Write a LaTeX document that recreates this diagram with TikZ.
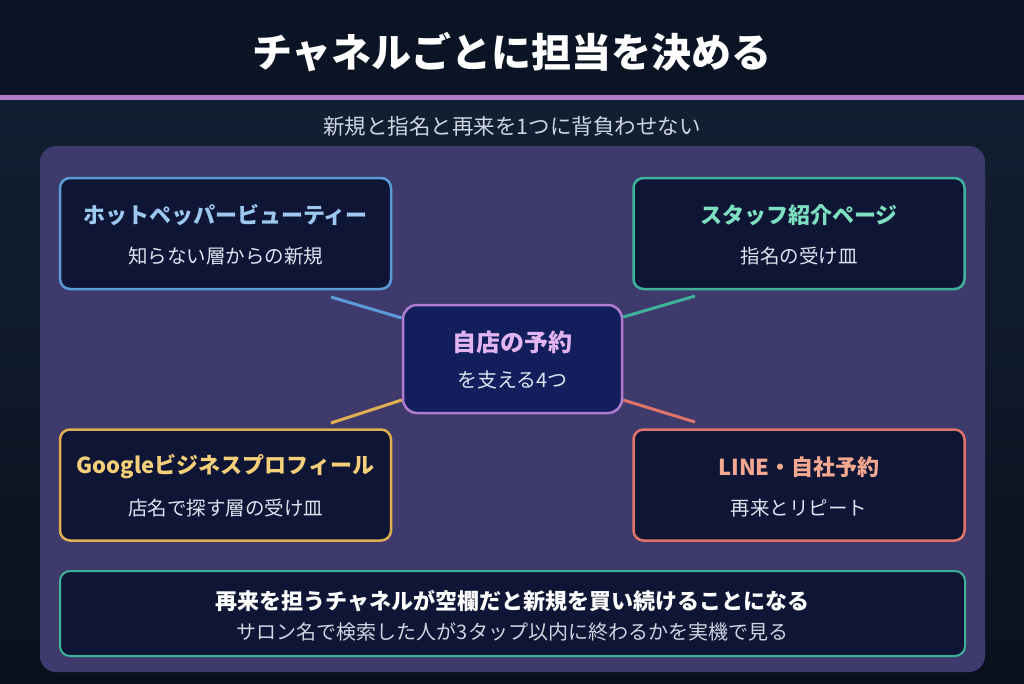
\documentclass[tikz,border=0pt]{standalone}
\usepackage{fontspec}
\setmainfont{Noto Sans CJK JP}
\usetikzlibrary{backgrounds}
\definecolor{hdrbg}{HTML}{0A1424}
\definecolor{bgtop}{HTML}{121F32}
\definecolor{bgbot}{HTML}{0A111E}
\definecolor{accent}{HTML}{B07AC8}
\definecolor{panel}{HTML}{3E3A6C}
\definecolor{boxfill}{HTML}{0E1535}
\definecolor{cfill}{HTML}{131F5C}
\definecolor{cblue}{HTML}{5B9BD5}
\definecolor{tblue}{HTML}{9CC8F0}
\definecolor{cteal}{HTML}{3FB39A}
\definecolor{tteal}{HTML}{7DE0C0}
\definecolor{cgold}{HTML}{E0B050}
\definecolor{tgold}{HTML}{F5CF7A}
\definecolor{cred}{HTML}{E07468}
\definecolor{tred}{HTML}{F5A890}
\definecolor{cpurp}{HTML}{B07CD0}
\definecolor{tpurp}{HTML}{E2B4F2}
\definecolor{subtxt}{HTML}{DCE4F0}
\definecolor{hsub}{HTML}{CDD5E0}
\tikzset{
  chbox/.style={draw, line width=2.5pt, fill=boxfill, rounded corners=10pt,
    minimum width=331pt, minimum height=111pt, inner sep=0pt},
  ttl/.style={font=\bfseries\fontsize{22}{26}\selectfont, inner sep=0pt},
  stx/.style={font=\fontsize{19.5}{23}\selectfont, text=subtxt, inner sep=0pt},
  conn/.style={line width=3pt},
}
\begin{document}
\begin{tikzpicture}[x=1pt,y=-1pt]
\useasboundingbox (0,0) rectangle (1024,683);
% background
\shade[top color=bgtop, bottom color=bgbot] (0,97) rectangle (1024,683);
\fill[hdrbg] (0,0) rectangle (1024,95);
\fill[accent] (0,95) rectangle (1024,100);
\node[font=\bfseries\fontsize{40}{45}\selectfont, text=white, inner sep=0pt] (title) at (512,52) {チャネルごとに担当を決める};
\node[font=\fontsize{21.5}{25}\selectfont, text=hsub, inner sep=0pt] (subtitle) at (512,126) {新規と指名と再来を1つに背負わせない};
% panel
\fill[panel, rounded corners=16pt] (40,146) rectangle (985,672);
% boxes
\node[chbox, draw=cblue] (tl) at (225.5,233.5) {};
\node[chbox, draw=cteal] (tr) at (799,233.5) {};
\node[chbox, draw=cgold] (bl) at (225.5,485) {};
\node[chbox, draw=cred] (br) at (799,485) {};
\node[draw=cpurp, line width=2.5pt, fill=cfill, rounded corners=14pt,
  minimum width=219pt, minimum height=108pt, inner sep=0pt] (c) at (512.5,359) {};
\node[draw=cteal, line width=2pt, fill=boxfill, rounded corners=10pt,
  minimum width=905pt, minimum height=85pt, inner sep=0pt] (bot) at (512.5,613.5) {};
% connectors
\coordinate (tlE) at (331,297);
\coordinate (trE) at (695,296);
\coordinate (blE) at (331,423);
\coordinate (brE) at (695,422);
\draw[conn, cblue] (tlE) -- ([yshift=41pt]c.west);
\draw[conn, cteal] (trE) -- ([yshift=42pt]c.east);
\draw[conn, cgold] (blE) -- ([yshift=-41pt]c.west);
\draw[conn, cred] (brE) -- ([yshift=-41pt]c.east);
% texts
\node[ttl, text=tblue] (tlt) at ([yshift=18.5pt]tl.center) {ホットペッパービューティー};
\node[stx] (tls) at ([yshift=-22.5pt]tl.center) {知らない層からの新規};
\node[ttl, text=tteal] (trt) at ([yshift=18.5pt]tr.center) {スタッフ紹介ページ};
\node[stx] (trs) at ([yshift=-22.5pt]tr.center) {指名の受け皿};
\node[ttl, text=tgold] (blt) at ([yshift=18pt]bl.center) {Googleビジネスプロフィール};
\node[stx] (bls) at ([yshift=-23pt]bl.center) {店名で探す層の受け皿};
\node[ttl, text=tred] (brt) at ([yshift=18pt]br.center) {LINE・自社予約};
\node[stx] (brs) at ([yshift=-23pt]br.center) {再来とリピート};
\node[font=\bfseries\fontsize{24}{28}\selectfont, text=tpurp, inner sep=0pt] (ct) at ([yshift=17pt]c.center) {自店の予約};
\node[font=\fontsize{20}{24}\selectfont, text=subtxt, inner sep=0pt] (cs) at ([yshift=-21pt]c.center) {を支える4つ};
\node[font=\bfseries\fontsize{22}{26}\selectfont, text=white, inner sep=0pt] (b1) at ([yshift=12.5pt]bot.center) {再来を担うチャネルが空欄だと新規を買い続けることになる};
\node[font=\fontsize{20}{24}\selectfont, text=hsub, inner sep=0pt] (b2) at ([yshift=-18.5pt]bot.center) {サロン名で検索した人が3タップ以内に終わるかを実機で見る};
\end{tikzpicture}
\end{document}
